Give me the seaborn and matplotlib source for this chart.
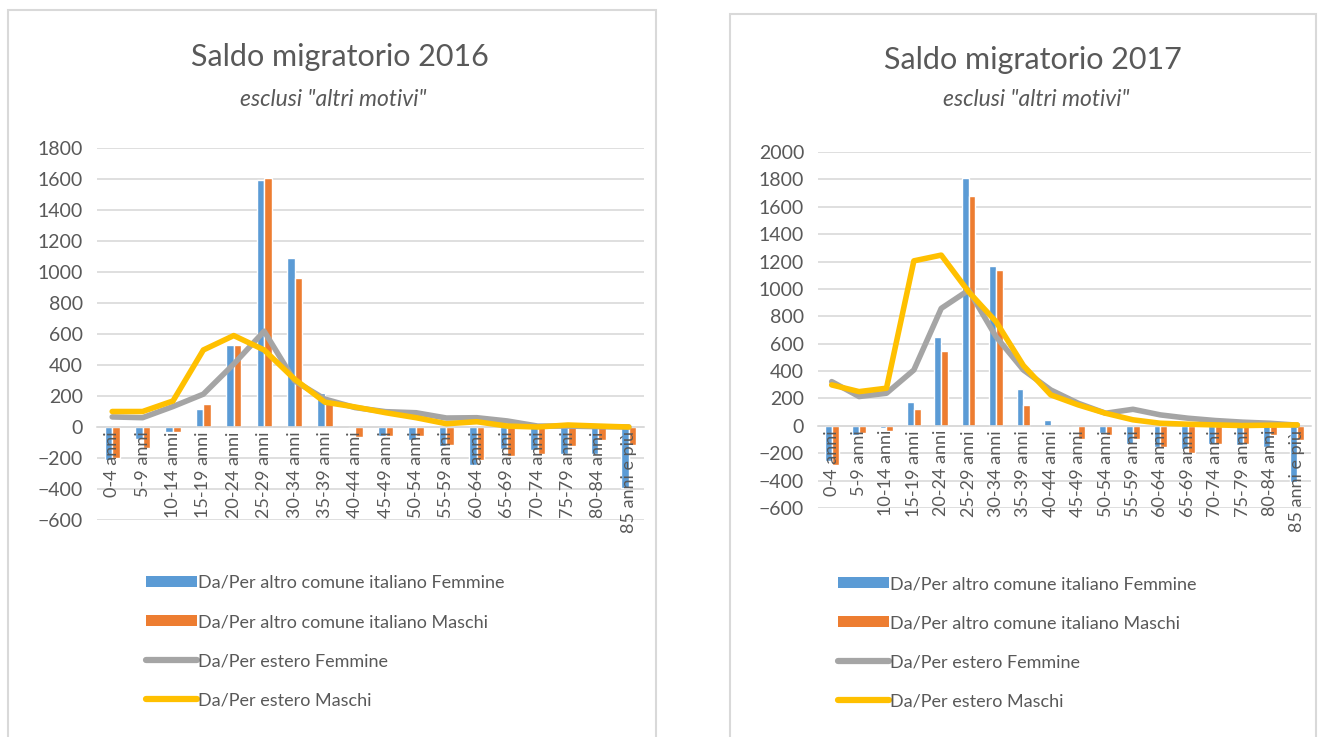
import matplotlib
matplotlib.use("Agg")
import matplotlib.pyplot as plt
import numpy as np
import pandas as pd
import seaborn as sns
from matplotlib.patches import Rectangle, Patch
from matplotlib.lines import Line2D

# Age classes (x axis)
ages = ["0-4 anni", "5-9 anni", "10-14 anni", "15-19 anni", "20-24 anni",
        "25-29 anni", "30-34 anni", "35-39 anni", "40-44 anni", "45-49 anni",
        "50-54 anni", "55-59 anni", "60-64 anni", "65-69 anni", "70-74 anni",
        "75-79 anni", "80-84 anni", "85 anni e più"]

series_names = ["Da/Per altro comune italiano Femmine",
                "Da/Per altro comune italiano Maschi",
                "Da/Per estero Femmine",
                "Da/Per estero Maschi"]

# 2016 values
comune_f_2016 = [-210, -75, -30, 115, 527, 1594, 1093, 218, 0, -60, -84, -123, -242, -145, -151, -177, -177, -393]
comune_m_2016 = [-200, -135, -30, 147, 527, 1605, 959, 190, -65, -55, -58, -117, -210, -188, -177, -123, -84, -117]
estero_f_2016 = [65, 60, 132, 212, 406, 618, 298, 180, 125, 99, 92, 58, 60, 39, 6, 6, 2, 0]
estero_m_2016 = [100, 100, 168, 497, 590, 497, 309, 160, 129, 92, 60, 21, 34, 6, 0, 13, 6, 0]

# 2017 values
comune_f_2017 = [-260, -66, -17, 177, 651, 1810, 1166, 267, 44, 0, -49, -131, -151, -170, -131, -139, -151, -413]
comune_m_2017 = [-284, -49, -36, 124, 549, 1679, 1137, 153, 0, -95, -66, -95, -151, -199, -131, -131, -66, -102]
estero_f_2017 = [323, 214, 238, 408, 858, 991, 651, 408, 262, 165, 92, 121, 80, 56, 39, 27, 19, 5]
estero_m_2017 = [299, 250, 275, 1205, 1247, 979, 761, 440, 226, 153, 92, 44, 19, 12, 7, 2, 5, 7]

BLUE = "#5B9BD5"
ORANGE = "#ED7D31"
GRAY = "#A5A5A5"
YELLOW = "#FFC000"
TEXT = "#595959"
GRID = "#D9D9D9"

sns.set_style("white")
plt.rcParams["font.family"] = ["Lato", "DejaVu Sans"]

W, H = 1319, 737
fig = plt.figure(figsize=(W / 100, H / 100), dpi=100)


def fx(px):
    return px / W


def fy(px):
    return 1 - px / H


def draw_panel(ax, comune_f, comune_m, estero_f, estero_m, ymax):
    df = pd.DataFrame({
        "age": ages * 2,
        "serie": [series_names[0]] * len(ages) + [series_names[1]] * len(ages),
        "saldo": comune_f + comune_m,
    })
    sns.barplot(data=df, x="age", y="saldo", hue="serie", order=ages,
                palette=[BLUE, ORANGE], width=0.5, gap=0, saturation=1,
                legend=False, ax=ax, zorder=2)
    pos = np.arange(len(ages))
    sns.lineplot(x=pos, y=estero_f, color=GRAY, lw=4, ax=ax, zorder=3,
                 solid_joinstyle="round", solid_capstyle="round")
    sns.lineplot(x=pos, y=estero_m, color=YELLOW, lw=4, ax=ax, zorder=4,
                 solid_joinstyle="round", solid_capstyle="round")

    ax.set_xlim(-0.5, len(ages) - 0.5)
    ax.set_ylim(-600, ymax)
    ax.set_yticks(range(-600, ymax + 1, 200))
    ax.set_xlabel("")
    ax.set_ylabel("")
    ax.set_axisbelow(True)
    ax.grid(axis="y", color=GRID, lw=1.2)
    ax.grid(axis="x", visible=False)
    for s in ["left", "top", "right"]:
        ax.spines[s].set_visible(False)
    ax.spines["bottom"].set_position(("data", 0))
    ax.spines["bottom"].set_color(GRID)
    ax.spines["bottom"].set_linewidth(1.2)
    ax.tick_params(axis="x", length=0, labelbottom=False)
    ax.tick_params(axis="y", length=0, pad=10, labelsize=14, labelcolor=TEXT)
    # category labels sit just under the zero line, drawn over the bars
    for i, lab in enumerate(ages):
        ax.annotate(lab, xy=(i, 0), xytext=(0, -3), textcoords="offset points",
                    rotation=90, ha="center", va="top", fontsize=13,
                    color=TEXT, zorder=6, annotation_clip=False)
    ax.patch.set_alpha(0)


def add_legend(x_px, y_px):
    handles = [
        Patch(facecolor=BLUE, edgecolor="none"),
        Patch(facecolor=ORANGE, edgecolor="none"),
        Line2D([], [], color=GRAY, lw=4.5, solid_capstyle="round"),
        Line2D([], [], color=YELLOW, lw=4.5, solid_capstyle="round"),
    ]
    fig.legend(handles, series_names, loc="upper left",
               bbox_to_anchor=(fx(x_px), fy(y_px)), frameon=False,
               fontsize=13, labelcolor=TEXT, handlelength=2.8,
               handleheight=0.55, handletextpad=0.1, labelspacing=1.28,
               borderpad=0, borderaxespad=0)


# panel frames
fig.add_artist(Rectangle((fx(8), fy(745)), fx(656) - fx(8), fy(10) - fy(745),
                         transform=fig.transFigure, fill=False,
                         edgecolor=GRID, lw=1.5))
fig.add_artist(Rectangle((fx(730), fy(745)), fx(1316) - fx(730), fy(14) - fy(745),
                         transform=fig.transFigure, fill=False,
                         edgecolor=GRID, lw=1.5))

# 2016 panel
ax1 = fig.add_axes([fx(97), fy(520), fx(644) - fx(97), fy(148) - fy(520)])
draw_panel(ax1, comune_f_2016, comune_m_2016, estero_f_2016, estero_m_2016, 1800)
fig.text(fx(340), fy(57), "Saldo migratorio 2016", ha="center", va="center",
         fontsize=22, color=TEXT)
fig.text(fx(333), fy(100), 'esclusi "altri motivi"', ha="center", va="center",
         fontsize=16.5, color=TEXT, style="italic")
add_legend(146, 575)

# 2017 panel
ax2 = fig.add_axes([fx(818), fy(508), fx(1311) - fx(818), fy(152) - fy(508)])
draw_panel(ax2, comune_f_2017, comune_m_2017, estero_f_2017, estero_m_2017, 2000)
fig.text(fx(1033), fy(60), "Saldo migratorio 2017", ha="center", va="center",
         fontsize=22, color=TEXT)
fig.text(fx(1036), fy(100), 'esclusi "altri motivi"', ha="center", va="center",
         fontsize=16.5, color=TEXT, style="italic")
add_legend(838, 576)

fig.savefig("out.png", dpi=100)
